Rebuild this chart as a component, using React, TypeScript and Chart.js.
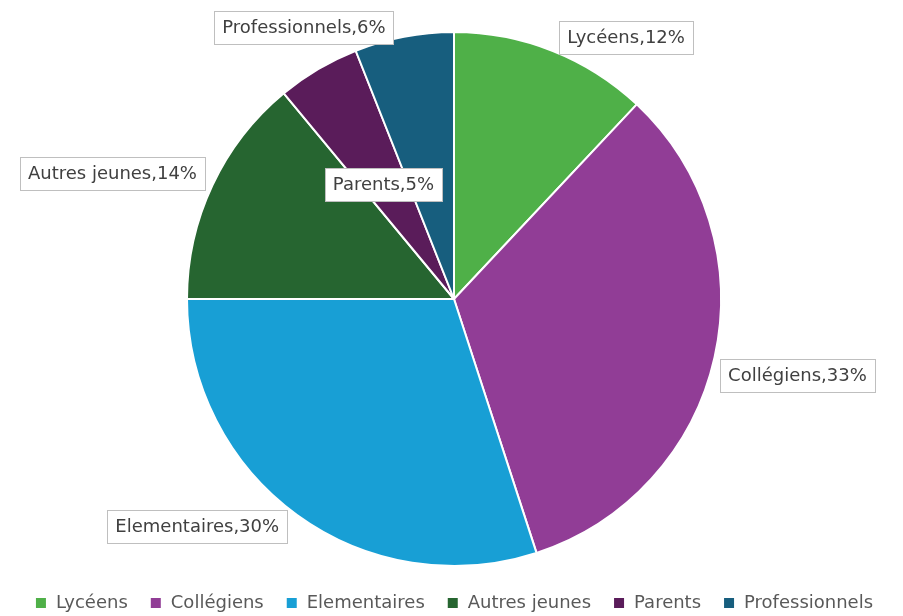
import React, { useEffect, useRef } from "react";
import { Chart, registerables } from "chart.js";

Chart.register(...registerables);

const categories = ["Lycéens", "Collégiens", "Elementaires", "Autres jeunes", "Parents", "Professionnels"];
const shares = [12, 33, 30, 14, 5, 6];
const colors = ["#4FB048", "#913D96", "#189FD5", "#266530", "#5A1C5A", "#175E7E"];
// label placement relative to each slice: angle nudge (deg) and distance as a fraction of radius
const labelAngleNudge = [11.7, 0, 12.5, -5, -1, -18.1];
const labelDistance = [1.174, 1.318, 1.284, 1.363, 0.504, 1.163];

const FONT = "'DejaVu Sans', sans-serif";

const labelPlugin = {
  id: "boxLabels",
  afterDatasetsDraw(chart: any) {
    const ctx = chart.ctx;
    const meta = chart.getDatasetMeta(0);
    ctx.save();
    ctx.font = `18px ${FONT}`;
    ctx.textBaseline = "middle";
    ctx.textAlign = "center";
    meta.data.forEach((arc: any, i: number) => {
      const p = arc.getProps(["x", "y", "startAngle", "endAngle", "outerRadius"], true);
      const mid = (p.startAngle + p.endAngle) / 2 + (labelAngleNudge[i] * Math.PI) / 180;
      const d = p.outerRadius * labelDistance[i];
      const cx = p.x + Math.cos(mid) * d;
      const cy = p.y + Math.sin(mid) * d;
      const text = `${categories[i]},${shares[i]}%`;
      const w = Math.round(ctx.measureText(text).width + 16);
      const h = 33;
      const bx = Math.round(cx - w / 2) + 0.5;
      const by = Math.round(cy - h / 2) + 0.5;
      ctx.fillStyle = "#ffffff";
      ctx.fillRect(bx, by, w, h);
      ctx.strokeStyle = "#bfbfbf";
      ctx.lineWidth = 1;
      ctx.strokeRect(bx, by, w, h);
      ctx.fillStyle = "#404040";
      ctx.fillText(text, cx, cy + 1);
    });
    ctx.restore();
  },
};

export default function App() {
  const ref = useRef<HTMLCanvasElement>(null);
  useEffect(() => {
    if (!ref.current) return;
    const chart = new Chart(ref.current, {
      type: "pie",
      data: {
        labels: categories,
        datasets: [
          {
            data: shares,
            backgroundColor: colors,
            borderColor: "#ffffff",
            borderWidth: 2,
            radius: 267,
          } as any,
        ],
      },
      options: {
        responsive: false,
        animation: false,
        layout: { padding: { left: 5, right: 0, top: 26, bottom: 0 } },
        plugins: {
          tooltip: { enabled: false },
          legend: {
            position: "bottom",
            labels: {
              boxWidth: 12,
              boxHeight: 12,
              padding: 22,
              color: "#595959",
              font: { family: FONT, size: 18 },
            },
          },
        },
      },
      plugins: [labelPlugin],
    });
    return () => chart.destroy();
  }, []);
  return (
    <div style={{ position: "fixed", left: 0, top: 0, width: 903, height: 616, overflow: "hidden", background: "#fff" }}>
      <canvas ref={ref} width={903} height={622} style={{ display: "block" }} />
    </div>
  );
}
